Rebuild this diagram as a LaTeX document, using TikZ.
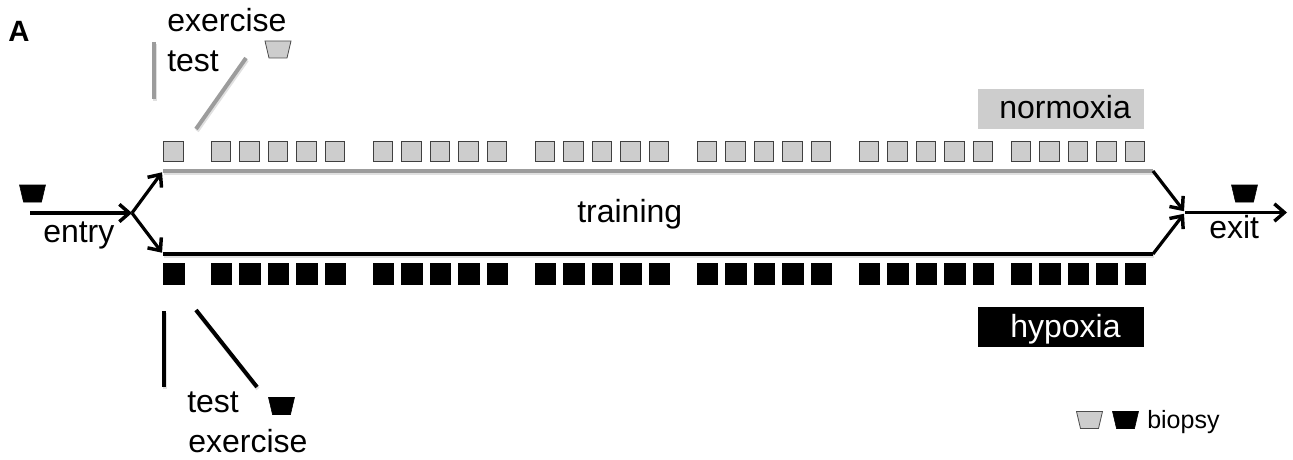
\documentclass[tikz,border=0pt]{standalone}
\usepackage{fontspec}
\setmainfont{Liberation Sans}
\usetikzlibrary{arrows.meta}
\definecolor{lightgrey}{HTML}{CDCDCD}
\definecolor{midgrey}{HTML}{9C9C9C}
\tikzset{
  lbl/.style={inner sep=0pt,anchor=base west,font=\fontsize{24}{24}\selectfont},
  sqgrey/.style={draw=black!75,line width=0.75pt,fill=lightgrey,minimum size=14.9pt,inner sep=0pt,outer sep=0pt,anchor=north west},
  sqblack/.style={draw=black,line width=0.4pt,fill=black,minimum size=15.4pt,inner sep=0pt,outer sep=0pt,anchor=north west},
  trapgrey/.style={draw=black!70,line width=0.6pt,fill=lightgrey},
  trapblack/.style={draw=black,line width=0.4pt,fill=black},
  biomark/.pic={\path[pic actions] (-13,-8.5) -- (13,-8.5) -- (9,8.5) -- (-9,8.5) -- cycle;},
  softshadow/.style={draw=black!12,line width=3pt},
  flow/.style={line width=2.4pt,-{Straight Barb[length=7.5pt,width=13pt,line width=2.6pt]}},
  mergeflow/.style={flow,shorten >=1.2pt},
  railgrey/.style={line width=3pt,draw=midgrey},
  railblack/.style={line width=3pt,draw=black},
  tick/.style={line width=3pt},
  tagbox/.style={minimum width=124.5pt,minimum height=30pt,inner sep=0pt,outer sep=0pt,anchor=north west}
}
\begin{document}
\begin{tikzpicture}[x=0.75pt,y=-0.75pt]
\useasboundingbox (0,0) rectangle (1293,460);
% squares
\foreach \n/\sx in {0/163.5,1/211,2/239.5,3/268,4/296.5,5/325,6/373,7/401.5,8/430,9/458.5,10/487,11/535,12/563.5,13/592,14/620.5,15/649,16/697,17/725.5,18/754,19/782.5,20/811,21/859,22/887.5,23/916,24/944.5,25/973,26/1011,27/1039.5,28/1068,29/1096.5,30/1125}{
  \node[sqgrey] (g\n) at (\sx,141.5) {};
  \node[sqblack] (b\n) at (\sx,263.5) {};
}
% junction coordinates
\coordinate (start) at (30,213);
\coordinate (split) at (132,213);
\coordinate (tl) at (163,171);
\coordinate (tr) at (1153,171);
\coordinate (bl) at (163,254);
\coordinate (br) at (1153,254);
\coordinate (merge) at (1185,212.5);
\coordinate (end) at (1287,212.5);
\coordinate (gv1) at (154,42); \coordinate (gv2) at (154,99);
\coordinate (gd1) at (246,58); \coordinate (gd2) at (196,129);
\coordinate (bv1) at (164,311); \coordinate (bv2) at (164,387);
\coordinate (bd1) at (196,310); \coordinate (bd2) at (257,387);
% soft shadows
\draw[softshadow] ([shift={(1,2)}]tl) -- ([shift={(1,2)}]tr);
\draw[softshadow] ([shift={(1,2)}]bl) -- ([shift={(1,2)}]br);
\draw[softshadow] ([shift={(1,2)}]gv1) -- ([shift={(1,2)}]gv2);
\draw[softshadow] ([shift={(1,2)}]gd1) -- ([shift={(1,2)}]gd2);
\draw[softshadow] ([shift={(1,2)}]bv1) -- ([shift={(1,2)}]bv2);
\draw[softshadow] ([shift={(1,2)}]bd1) -- ([shift={(1,2)}]bd2);
% rails and arrows
\draw[railgrey] (tl) -- (tr);
\draw[railblack,line join=round] (bl) -- (br);
\draw[flow] (start) -- (split);
\draw[mergeflow] (split) -- (tl);
\draw[mergeflow] (split) -- (bl);
\draw[mergeflow] (tr) -- (merge);
\draw[mergeflow] (br) -- (merge);
\draw[flow] (merge) -- (end);
% ticks
\draw[tick,draw=midgrey] (gv1) -- (gv2);
\draw[tick,draw=midgrey] (gd1) -- (gd2);
\draw[tick,draw=black] (bv1) -- (bv2);
\draw[tick,draw=black] (bd1) -- (bd2);
% biopsy marks
\pic[trapblack] (bioEntry) at (32.5,193.5) {biomark};
\pic[trapblack] (bioExit) at (1244.5,193.5) {biomark};
\pic[trapgrey] (bioTop) at (278,49.5) {biomark};
\pic[trapblack] (bioBottom) at (281.5,406) {biomark};
\pic[trapgrey] (bioLegG) at (1089.5,420) {biomark};
\pic[trapblack] (bioLegB) at (1125.5,420) {biomark};
% tags
\node[tagbox,fill=lightgrey] (normbox) at (978,89) {};
\node[tagbox,fill=black] (hypbox) at (978,307) {};
% labels
\node[lbl] (panel) at (8,42) {\fontsize{22}{22}\selectfont\bfseries A};
\node[lbl] (ex1) at (167,32) {exercise};
\node[lbl] (te1) at (167,72) {test};
\node[lbl] (te2) at (187,412) {test};
\node[lbl] (ex2) at (188,452) {exercise};
\node[lbl] (entry) at (43,242) {entry};
\node[lbl] (exit) at (1209,238) {exit};
\node[lbl] (training) at (577,222) {training};
\node[lbl] (norm) at (999,118) {normoxia};
\node[lbl,text=white] (hyp) at (1010,337) {hypoxia};
\node[lbl] (biopsy) at (1147,428) {\fontsize{18.75}{18.75}\selectfont biopsy};
\end{tikzpicture}
\end{document}
